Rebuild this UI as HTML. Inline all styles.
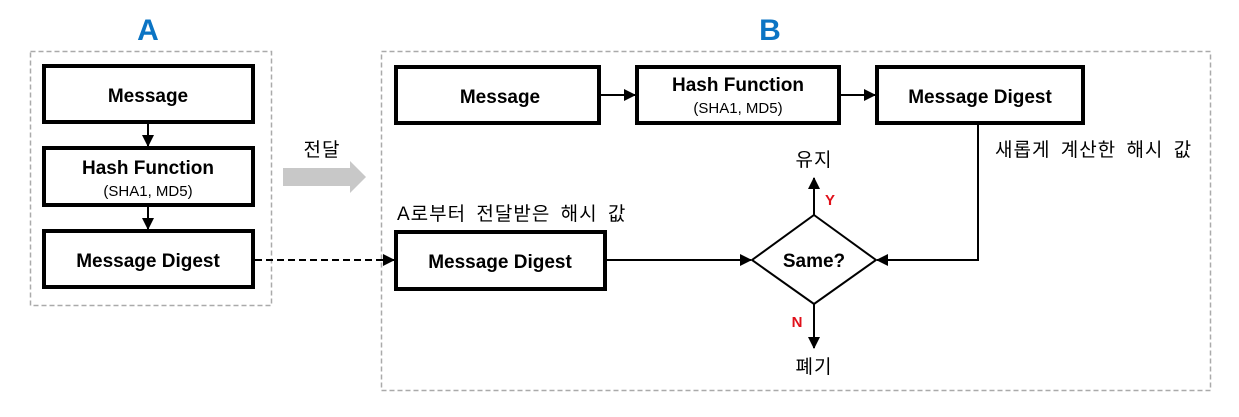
<!DOCTYPE html>
<html><head><meta charset="utf-8"><style>
body{margin:0;width:1239px;height:412px;background:#fff;overflow:hidden}
</style></head><body>
<svg width="1239" height="412" xmlns="http://www.w3.org/2000/svg" font-family="'Liberation Sans','Noto Sans CJK KR',sans-serif">
<defs>
<marker id="ah" markerWidth="12" markerHeight="12" refX="11" refY="6" orient="auto" markerUnits="userSpaceOnUse"><path d="M0,0 L12,6 L0,12 z" fill="#000"/></marker>
</defs>
<text x="148" y="40" font-size="30" font-weight="bold" fill="#0b74c4" text-anchor="middle">A</text>
<text x="770" y="40" font-size="30" font-weight="bold" fill="#0b74c4" text-anchor="middle">B</text>
<rect x="30.5" y="51.5" width="241" height="254" fill="none" stroke="#aaa" stroke-width="1.5" stroke-dasharray="5,3"/>
<rect x="381.5" y="51.5" width="829" height="339" fill="none" stroke="#aaa" stroke-width="1.5" stroke-dasharray="5,3"/>
<g fill="#fff" stroke="#000" stroke-width="4">
<rect x="44" y="66" width="209" height="56"/>
<rect x="44" y="148" width="209" height="57"/>
<rect x="44" y="231" width="209" height="56"/>
<rect x="396" y="67" width="203" height="56"/>
<rect x="637" y="67" width="202" height="56"/>
<rect x="877" y="67" width="206" height="56"/>
<rect x="396" y="232" width="209" height="57"/>
</g>
<g font-weight="bold" font-size="19" text-anchor="middle" fill="#000">
<text x="148" y="102">Message</text>
<text x="148" y="174">Hash Function</text>
<text x="148" y="267">Message Digest</text>
<text x="500" y="103">Message</text>
<text x="738" y="91">Hash Function</text>
<text x="980" y="103">Message Digest</text>
<text x="500" y="268">Message Digest</text>
<text x="814" y="267">Same?</text>
</g>
<g font-size="15" text-anchor="middle" fill="#000">
<text x="148" y="196">(SHA1, MD5)</text>
<text x="738" y="113">(SHA1, MD5)</text>
</g>
<g stroke="#000" stroke-width="2" fill="none">
<line x1="148" y1="124" x2="148" y2="146" marker-end="url(#ah)"/>
<line x1="148" y1="207" x2="148" y2="229" marker-end="url(#ah)"/>
<line x1="601" y1="95" x2="635" y2="95" marker-end="url(#ah)"/>
<line x1="841" y1="95" x2="875" y2="95" marker-end="url(#ah)"/>
<line x1="255" y1="260" x2="394" y2="260" stroke-dasharray="7,4" marker-end="url(#ah)"/>
<line x1="607" y1="260" x2="751" y2="260" marker-end="url(#ah)"/>
<polyline points="978,125 978,260 877,260" marker-end="url(#ah)"/>
<line x1="814" y1="215" x2="814" y2="178" marker-end="url(#ah)"/>
<line x1="814" y1="304" x2="814" y2="348" marker-end="url(#ah)"/>
<polygon points="814,215 876,260 814,304 752,260" stroke-width="2"/>
</g>
<polygon points="283,168 350,168 350,161 366,177 350,193 350,186 283,186" fill="#c8c8c8"/>
<g font-size="19" fill="#000" word-spacing="4" letter-spacing="1">
<text x="322" y="156" text-anchor="middle">전달</text>
<text x="397" y="220">A로부터 전달받은 해시 값</text>
<text x="995" y="156">새롭게 계산한 해시 값</text>
<text x="814" y="166" text-anchor="middle">유지</text>
<text x="814" y="373" text-anchor="middle">폐기</text>
</g>
<text x="830" y="205" font-size="15" font-weight="bold" fill="#e0101a" text-anchor="middle">Y</text>
<text x="797" y="327" font-size="15" font-weight="bold" fill="#e0101a" text-anchor="middle">N</text>
</svg>
</body></html>
